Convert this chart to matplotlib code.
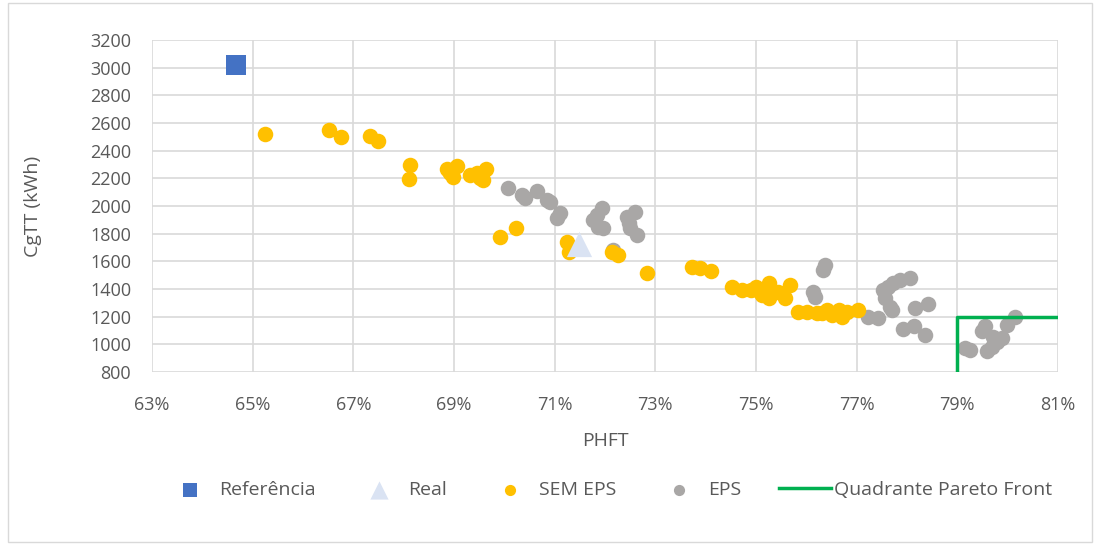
import matplotlib.pyplot as plt
from matplotlib.ticker import FuncFormatter, MultipleLocator
from matplotlib.patches import Rectangle

# PHFT (%) and CgTT (kWh)
ref_x = [64.67]
ref_y = [3020]

real_x = [71.48]
real_y = [1725]

sem_x = [65.25, 66.52, 66.76, 67.33, 67.49, 68.13, 68.11, 68.86, 68.93, 69.05, 68.98, 68.90,
         69.31, 69.45, 69.64, 69.58, 69.52, 69.91, 70.23, 71.24, 71.29, 72.14, 72.26, 72.83,
         73.72, 73.88, 74.10, 74.52, 74.72, 75.01, 75.08, 75.25, 75.25, 75.44, 75.58, 75.68,
         75.12, 74.90, 75.84, 76.01, 76.21, 76.31, 76.41, 76.51, 76.64, 76.70, 76.80, 77.03]
sem_y = [2520, 2549, 2499, 2506, 2470, 2296, 2195, 2270, 2240, 2290, 2210, 2250,
         2225, 2240, 2265, 2185, 2205, 1778, 1841, 1742, 1665, 1665, 1646, 1514,
         1561, 1555, 1532, 1412, 1393, 1417, 1380, 1441, 1333, 1381, 1333, 1429,
         1360, 1395, 1235, 1236, 1225, 1224, 1245, 1212, 1248, 1200, 1236, 1245]

eps_x = [70.08, 70.35, 70.41, 70.64, 70.84, 70.91, 71.11, 71.04, 71.94, 71.84, 71.77, 71.97,
         71.86, 72.60, 72.43, 72.50, 72.63, 72.47, 72.15, 76.37, 76.34, 76.14, 76.17, 77.23,
         77.43, 77.53, 77.63, 77.73, 77.86, 78.06, 77.56, 77.66, 77.70, 78.16, 78.42, 77.93,
         78.13, 78.36, 79.15, 79.25, 79.49, 79.55, 79.68, 79.58, 79.78, 79.88, 79.98, 80.15, 79.71]
eps_y = [2130, 2080, 2056, 2110, 2043, 2031, 1947, 1911, 1985, 1935, 1899, 1839,
         1848, 1960, 1923, 1839, 1790, 1880, 1682, 1574, 1540, 1375, 1340, 1200,
         1188, 1393, 1417, 1441, 1465, 1480, 1333, 1272, 1248, 1260, 1290, 1110,
         1130, 1070, 971, 959, 1100, 1130, 983, 955, 1019, 1044, 1140, 1195, 1055]

pareto_x = [79, 79, 81]
pareto_y = [800, 1200, 1200]

x_ticks = list(range(63, 82, 2))

plt.rcParams['font.family'] = ['Open Sans', 'DejaVu Sans']

fig = plt.figure(figsize=(10.95, 5.45), dpi=100)
ax = fig.add_axes([0.1388, 0.3174, 0.8274, 0.6092])

ax.scatter(eps_x, eps_y, s=125, color='#A9A7A6', label='EPS', zorder=3, linewidths=0)
ax.scatter(sem_x, sem_y, s=125, color='#FFC000', label='SEM EPS', zorder=3, linewidths=0)
ax.scatter(ref_x, ref_y, s=220, marker='s', color='#4472C4', label='Referência', zorder=4, linewidths=0)
ax.scatter(real_x, real_y, s=330, marker='^', color='#DAE3F3', label='Real', zorder=4, linewidths=0)
ax.plot(pareto_x, pareto_y, color='#00B050', lw=2.5, label='Quadrante Pareto Front', zorder=5)

ax.set_xlim(63, 81)
ax.set_ylim(800, 3200)
ax.set_xticks(x_ticks)
ax.yaxis.set_major_locator(MultipleLocator(200))
ax.xaxis.set_major_formatter(FuncFormatter(lambda v, p: f'{v:.0f}%'))
ax.grid(True, color='#D9D9D9', lw=1.2, zorder=0)
ax.set_axisbelow(True)
for s in ax.spines.values():
    s.set_visible(False)
ax.tick_params(length=0, labelsize=13, colors='#595959')
ax.tick_params(axis='x', pad=17)
ax.tick_params(axis='y', pad=15)

ax.set_xlabel('PHFT', fontsize=14, color='#595959', va='center')
ax.set_ylabel('CgTT (kWh)', fontsize=14, color='#595959', va='center')
ax.xaxis.set_label_coords(0.5, -0.208)
ax.yaxis.set_label_coords(-0.131, 0.5)

# legend in the order of the reference
h, l = ax.get_legend_handles_labels()
order = ['Referência', 'Real', 'SEM EPS', 'EPS', 'Quadrante Pareto Front']
hd = dict(zip(l, h))
leg = fig.legend([hd[k] for k in order], order, loc='center', bbox_to_anchor=(0.555, 0.101),
                 ncol=5, frameon=False, fontsize=14, handlelength=2.7, columnspacing=1.9,
                 handletextpad=0.15, markerscale=0.72)
for t in leg.get_texts():
    t.set_color('#595959')

fig.patches.append(Rectangle((0.007, 0.005), 0.99, 0.99, transform=fig.transFigure,
                             fill=False, edgecolor='#D9D9D9', lw=1))

plt.savefig('out.png', dpi=100)
